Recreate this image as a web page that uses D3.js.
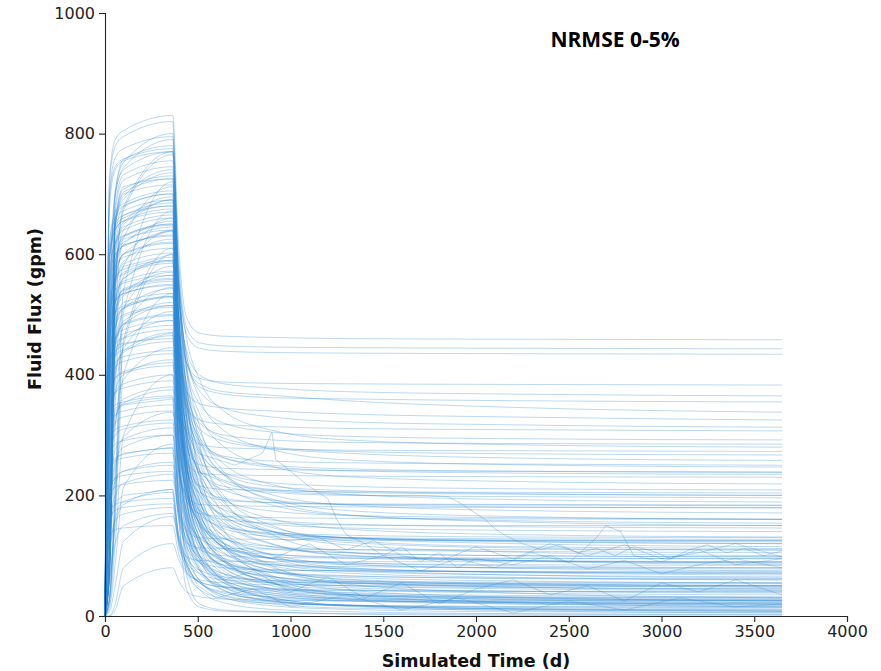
<!DOCTYPE html>
<html>
<head>
<meta charset="utf-8">
<script src="https://cdn.jsdelivr.net/npm/d3@7"></script>
<style>
  body { margin: 0; background: #fff; }
  svg { display: block; }
</style>
</head>
<body>
<script>
// days at which every smooth run is sampled
var sampleDays = [0, 25, 55, 100, 365, 395, 440, 510, 640, 900, 1300, 2200, 3650];

// fluid flux (gpm) of each smooth run, one value per sample day
var smoothRuns = [
  [0,730,790,805,830,625,495,469,464,462,460,459,458],
  [0,475,695,743,790,599,478,453,448,446,445,444,443],
  [0,230,535,673,765,583,467,444,439,437,436,435,434],
  [0,112,670,723,745,546,419,394,388,386,385,384,383],
  [0,441,647,691,735,560,420,385,372,366,357,346,338],
  [0,109,652,703,725,505,372,352,345,340,335,330,325],
  [0,214,498,627,712,552,433,373,345,330,322,317,313],
  [0,105,630,679,700,484,346,325,318,314,311,309,307],
  [0,414,607,649,690,531,411,352,320,305,298,294,292],
  [0,598,646,660,680,560,460,392,340,308,292,284,280],
  [0,34,202,504,672,453,313,285,279,277,275,274,273],
  [0,100,598,645,665,506,386,327,295,280,273,269,267],
  [0,393,576,616,655,533,431,361,308,276,259,251,247],
  [0,97,583,629,648,423,280,251,245,243,241,240,239],
  [0,192,448,563,640,478,357,296,263,247,241,237,235],
  [0,556,600,613,632,508,405,335,281,248,231,223,219],
  [0,375,550,588,625,459,334,271,238,221,215,211,209],
  [0,93,556,600,618,390,245,216,210,208,206,205,204],
  [0,31,183,458,610,484,378,307,252,218,202,193,189],
  [0,90,542,584,602,433,306,242,209,192,185,181,179],
  [0,357,524,559,595,468,362,290,235,201,184,175,171],
  [0,88,529,570,588,417,289,225,191,174,167,163,161],
  [0,174,406,510,580,452,346,273,218,184,167,158,154],
  [0,86,515,555,572,402,274,210,176,159,152,148,146],
  [0,339,497,531,565,435,326,253,196,161,144,135,131],
  [0,84,502,541,558,384,254,188,153,136,130,125,123],
  [0,484,523,534,550,418,307,232,175,140,122,113,109],
  [0,326,478,510,543,365,232,165,129,111,105,100,98],
  [0,27,161,401,535,401,289,213,155,119,101,92,88],
  [0,79,475,512,528,345,208,140,103,85,78,73,71],
  [0,312,458,489,520,383,269,191,132,95,77,68,63],
  [0,77,461,497,512,328,189,120,83,65,58,53,51],
  [0,152,354,444,505,366,251,172,112,75,57,48,43],
  [0,75,448,483,498,312,172,102,65,46,39,34,32],
  [0,294,431,461,490,350,233,153,92,55,36,27,22],
  [0,72,434,468,482,293,152,81,43,24,17,12,10],
  [0,722,779,795,820,516,288,174,113,83,71,64,60],
  [0,480,704,752,800,586,407,286,192,135,106,92,85],
  [0,117,702,757,780,555,368,240,143,83,53,38,30],
  [0,231,539,678,770,510,315,218,166,140,130,123,120],
  [0,113,680,732,755,455,230,118,58,28,16,9,5],
  [0,444,651,696,740,563,416,315,239,191,168,156,150],
  [0,110,657,708,730,456,251,148,93,66,55,48,45],
  [0,36,216,540,720,509,332,212,121,64,36,22,15],
  [0,620,670,684,705,503,352,276,235,215,208,203,200],
  [0,417,612,653,695,445,258,164,114,89,79,73,70],
  [0,103,616,664,685,510,363,264,188,141,118,106,100],
  [0,594,641,655,675,304,68,20,10,7,3,1,0],
  [0,198,462,581,660,410,223,129,79,54,44,38,35],
  [0,572,618,631,650,503,381,297,234,194,175,165,160],
  [0,383,561,600,638,405,230,142,96,72,64,58,55],
  [0,93,558,601,620,442,293,192,114,67,43,31,25],
  [0,30,180,450,600,392,236,158,116,96,88,83,80],
  [0,515,556,567,585,354,181,95,48,25,17,11,8],
  [0,342,502,536,570,434,320,242,183,147,129,120,115],
  [0,84,504,543,560,274,92,56,48,45,43,41,40],
  [0,164,382,480,545,383,262,201,168,152,146,142,140],
  [0,466,504,514,530,376,248,161,95,54,33,23,18],
  [0,309,453,484,515,345,218,154,120,103,96,92,90],
  [0,75,450,485,500,324,192,126,91,73,67,62,60],
  [0,418,451,461,475,340,255,237,234,233,232,231,230],
  [0,279,409,437,465,290,159,94,59,41,35,30,28],
  [0,400,432,441,455,341,246,181,132,102,86,79,75],
  [0,134,312,392,445,272,142,77,42,25,18,14,12],
  [0,383,413,422,435,303,204,155,128,115,110,107,105],
  [0,255,374,400,425,192,44,15,8,6,4,3,2],
  [0,365,394,403,415,306,214,152,105,76,61,54,50],
  [0,20,120,300,400,248,134,77,47,31,26,22,20],
  [0,343,371,378,390,286,208,169,148,138,134,131,130],
  [0,225,330,353,375,282,205,152,112,87,74,68,65],
  [0,319,344,351,362,220,113,59,31,17,11,7,6],
  [0,308,333,340,350,257,197,185,183,182,181,180,180],
  [0,101,237,297,338,248,173,122,83,59,47,41,38],
  [0,286,309,315,325,233,164,130,111,102,98,96,95],
  [0,187,275,293,312,193,103,59,35,23,18,15,14],
  [0,264,285,291,300,204,143,130,128,127,126,125,125],
  [0,14,86,214,285,214,155,114,84,65,55,50,48],
  [0,238,257,262,270,163,83,43,22,11,7,4,3],
  [0,153,224,240,255,182,127,99,85,77,75,73,72],
  [0,211,228,233,240,177,124,89,62,45,36,32,30],
  [0,198,214,218,225,173,121,113,112,111,110,110,110],
  [0,63,147,185,210,132,74,44,29,21,18,16,15],
  [0,172,185,189,195,139,97,76,65,59,57,56,55],
  [0,108,158,169,180,128,85,56,34,20,13,10,8],
  [0,8,50,124,165,131,98,92,91,90,90,90,90],
  [0,132,143,146,150,106,73,57,48,43,42,41,40],
  [0,0,20,80,120,95,70,60,55,52,51,50,50],
  [0,0,10,50,80,60,40,32,28,26,25,25,25],
  [0,700,760,775,795,560,380,280,200,150,125,115,112],
  [0,520,700,740,770,520,330,230,160,120,100,92,88],
  [0,109,652,712,725,480,300,200,140,100,80,72,68],
  [0,600,650,665,680,470,330,260,225,210,205,202,200],
  [0,300,560,640,690,480,350,290,265,257,254,252,250],
  [0,96,576,625,640,430,270,180,120,80,60,52,48],
  [0,620,660,672,690,500,370,320,300,292,288,286,285],
  [0,450,590,620,645,420,250,150,90,55,38,30,26],
  [0,520,580,595,610,400,240,160,115,95,88,85,84],
  [0,98,585,630,650,440,300,240,215,205,200,198,196],
  [0,380,520,560,590,380,220,130,75,45,30,24,20],
  [0,500,540,552,565,380,250,185,150,135,130,128,127],
  [0,470,520,535,548,360,210,130,80,50,35,28,25],
  [0,420,490,510,530,370,260,215,195,188,185,184,183],
  [0,80,482,520,535,350,200,110,60,30,18,12,10],
  [0,400,460,475,490,340,230,175,145,132,128,126,125],
  [0,260,400,440,470,310,190,125,90,72,66,63,62],
  [0,420,445,452,460,330,240,205,192,188,186,185,184],
  [0,380,420,430,440,290,170,100,60,38,28,22,20],
  [0,360,395,405,420,300,215,175,160,154,151,150,150],
  [0,330,370,385,400,270,160,100,70,55,50,47,45],
  [0,200,320,360,380,260,170,120,95,85,82,80,80],
  [0,330,350,355,365,250,150,90,55,35,25,20,18],
  [0,290,320,330,340,250,190,170,165,163,162,161,160],
  [0,270,300,310,320,220,140,95,70,58,54,52,50],
  [0,160,250,280,300,200,120,75,50,38,33,31,30],
  [0,240,262,268,278,195,135,110,100,97,96,95,95],
  [0,200,230,240,250,170,105,70,48,35,30,28,27],
  [0,150,200,220,235,165,115,90,80,76,75,74,74],
  [0,100,160,190,205,140,85,55,38,28,25,23,22],
  [0,160,175,180,186,130,90,70,60,56,55,54,54],
  [0,60,120,150,170,120,80,55,40,32,28,26,25],
  [0,680,740,755,770,560,440,400,385,378,372,368,365],
  [0,700,745,758,775,560,420,380,368,362,360,357,355],
  [0,600,660,680,700,490,360,310,290,278,270,262,258],
  [0,560,620,640,660,470,340,285,262,250,244,240,238],
  [0,107,643,700,715,470,300,210,165,140,130,124,120],
  [0,590,640,655,670,450,280,190,140,115,105,100,98],
  [0,95,567,615,630,420,260,170,120,95,85,80,78],
  [0,500,560,575,590,390,230,140,90,62,50,45,42],
  [0,450,520,540,555,370,210,120,70,42,28,20,16],
  [0,420,480,500,515,340,190,100,55,30,18,12,8]
];

// runs that stay noisy after the injection stops: [day, flux]
var noisyRuns = [
  [[0,0],[25,500],[55,560],[100,580],[365,600],[420,320],[500,240],[700,215],[1000,205],[1400,200],[1700,200],[1850,198],[1900,190],[1950,180],[2000,170],[2050,160],[2100,145],[2150,135],[2250,120],[2350,110],[2450,118],[2550,105],[2650,112],[2750,100],[2850,115],[2950,108],[3050,95],[3150,110],[3250,118],[3350,105],[3450,112],[3550,100],[3650,108]],
  [[0,0],[25,400],[55,440],[100,450],[365,470],[400,330],[500,270],[700,250],[850,270],[900,305],[920,260],[1000,240],[1100,215],[1200,195],[1250,160],[1300,135],[1400,120],[1500,100],[1600,115],[1700,90],[1800,105],[1900,80],[2000,95],[2200,85],[2400,100],[2600,78],[2800,92],[3000,70],[3200,85],[3400,95],[3650,80]],
  [[0,0],[25,300],[55,340],[100,350],[365,360],[400,230],[500,150],[700,110],[900,95],[1100,120],[1300,85],[1500,100],[1700,75],[1900,95],[2100,80],[2300,105],[2500,88],[2650,130],[2700,150],[2780,140],[2850,100],[3000,90],[3200,110],[3400,85],[3650,95]],
  [[0,0],[25,200],[55,260],[100,270],[365,280],[400,170],[500,90],[650,60],[800,75],[1000,40],[1200,65],[1400,30],[1600,55],[1800,20],[2000,45],[2200,60],[2400,35],[2600,50],[2800,25],[3000,55],[3200,40],[3400,60],[3650,35]],
  [[0,0],[25,550],[55,600],[100,615],[365,640],[400,420],[500,240],[650,160],[800,135],[1000,125],[1150,130],[1300,110],[1450,125],[1600,100],[1800,90],[2000,115],[2200,95],[2400,120],[2600,100],[2800,118],[3000,95],[3200,105],[3400,120],[3650,98]],
  [[0,0],[25,150],[55,190],[100,200],[365,210],[400,110],[500,50],[600,30],[800,45],[1000,15],[1300,35],[1600,10],[1900,30],[2200,5],[2500,25],[2800,10],[3100,30],[3400,15],[3650,20]]
];

var xTicks = [0, 500, 1000, 1500, 2000, 2500, 3000, 3500, 4000];
var yTicks = [0, 200, 400, 600, 800, 1000];
var chartTitle = "NRMSE 0-5%";

var margin = { top: 13, right: 34, bottom: 55, left: 105 },
    width = 881 - margin.left - margin.right,
    height = 671 - margin.top - margin.bottom;

var lineColor = "#2f8ad3";

var svg = d3.select("body")
    .append("svg")
    .attr("width", 881)
    .attr("height", 671);

var g = svg.append("g")
    .attr("transform", `translate(${margin.left}, ${margin.top})`);

var x = d3.scaleLinear([0, 4000], [0, width]);
var y = d3.scaleLinear([0, 1000], [height, 0]);

var smoothLine = d3.line()
    .x((d, i) => x(sampleDays[i]))
    .y(d => y(d))
    .curve(d3.curveMonotoneX);

var noisyLine = d3.line()
    .x(d => x(d[0]))
    .y(d => y(d[1]));

var runs = g.append("g")
    .attr("fill", "none")
    .attr("stroke", lineColor)
    .attr("stroke-width", 1)
    .attr("stroke-opacity", 0.32);

runs.selectAll("path.smooth")
    .data(smoothRuns)
    .join("path")
    .attr("class", "smooth")
    .attr("d", smoothLine);

runs.selectAll("path.noisy")
    .data(noisyRuns)
    .join("path")
    .attr("class", "noisy")
    .attr("d", noisyLine);

// axes, matplotlib style: left and bottom spines only
var xAxis = g.append("g")
    .attr("transform", `translate(0, ${height})`)
    .call(d3.axisBottom(x).tickValues(xTicks).tickSize(6).tickPadding(4).tickFormat(d3.format("d")));

var yAxis = g.append("g")
    .call(d3.axisLeft(y).tickValues(yTicks).tickSize(6).tickPadding(4).tickFormat(d3.format("d")));

[xAxis, yAxis].forEach(a => {
    a.select(".domain").attr("stroke", "#262626").attr("stroke-width", 1.1);
    a.selectAll(".tick line").attr("stroke", "#262626").attr("stroke-width", 1.1);
    a.selectAll(".tick text")
        .attr("fill", "#222")
        .style("font-family", "DejaVu Sans, sans-serif")
        .style("font-size", "16px");
});

svg.append("text")
    .attr("x", margin.left + width / 2)
    .attr("y", 667)
    .attr("text-anchor", "middle")
    .style("font-family", "DejaVu Sans, sans-serif")
    .style("font-weight", "bold")
    .style("font-size", "17.5px")
    .attr("fill", "#111")
    .text("Simulated Time (d)");

svg.append("text")
    .attr("transform", "translate(41, 309) rotate(-90)")
    .attr("text-anchor", "middle")
    .style("font-family", "DejaVu Sans, sans-serif")
    .style("font-weight", "bold")
    .style("font-size", "17.5px")
    .attr("fill", "#111")
    .text("Fluid Flux (gpm)");

svg.append("text")
    .attr("x", 615)
    .attr("y", 47)
    .attr("text-anchor", "middle")
    .style("font-family", "Open Sans, sans-serif")
    .style("font-weight", "bold")
    .style("font-size", "21px")
    .attr("fill", "#000")
    .text(chartTitle);
</script>
</body>
</html>
